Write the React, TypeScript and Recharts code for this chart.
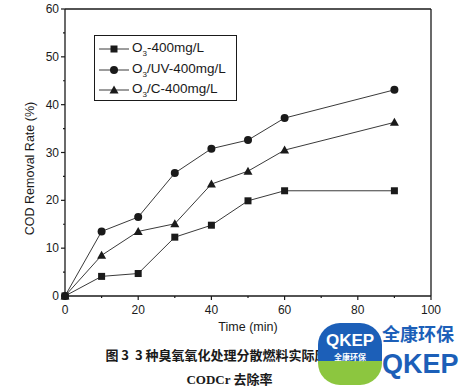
import React from "react";
import {
  LineChart,
  Line,
  XAxis,
  YAxis,
  ReferenceLine,
  Label,
} from "recharts";

// time (min)
const times = [0, 10, 20, 30, 40, 50, 60, 90];
// COD removal rate (%)
const o3 = [0, 4.1, 4.7, 12.3, 14.8, 19.9, 22.0, 22.0];
const o3uv = [0, 13.5, 16.5, 25.7, 30.8, 32.6, 37.2, 43.1];
const o3c = [0, 8.5, 13.5, 15.1, 23.4, 26.1, 30.5, 36.3];

const xTicks = [0, 10, 20, 30, 40, 50, 60, 70, 80, 90, 100];
const yTicks = [0, 5, 10, 15, 20, 25, 30, 35, 40, 45, 50, 55, 60];

const data = times.map((t, i) => ({ t, o3: o3[i], o3uv: o3uv[i], o3c: o3c[i] }));

const INK = "#1a1a1a";
const LINE = "#3a3a3a";
const FONT = "'Liberation Sans', Arial, sans-serif";

const Square = (p: any) =>
  p.cx == null ? null : (
    <rect key={p.key ?? p.index} x={p.cx - 3.5} y={p.cy - 3.5} width={7} height={7} fill={INK} />
  );
const Circle = (p: any) =>
  p.cx == null ? null : <circle key={p.key ?? p.index} cx={p.cx} cy={p.cy} r={4} fill={INK} />;
const Tri = (p: any) =>
  p.cx == null ? null : (
    <path
      key={p.key ?? p.index}
      d={`M${p.cx},${p.cy - 4.5} L${p.cx + 4.5},${p.cy + 3.5} L${p.cx - 4.5},${p.cy + 3.5} Z`}
      fill={INK}
    />
  );

const XTick = (p: any) => {
  const v = p.payload.value;
  const major = v % 20 === 0;
  const axisY = p.y - 10;
  return (
    <g>
      <line x1={p.x} x2={p.x} y1={axisY} y2={axisY + (major ? 4 : 2)} stroke={INK} strokeWidth={1.2} />
      {major && (
        <text x={p.x} y={axisY + 18} textAnchor="middle" fontSize={12} fill={INK} fontFamily={FONT}>
          {v}
        </text>
      )}
    </g>
  );
};

const YTick = (p: any) => {
  const v = p.payload.value;
  const major = v % 10 === 0;
  const axisX = p.x + 10;
  return (
    <g>
      <line x1={axisX} x2={axisX - (major ? 4 : 2)} y1={p.y} y2={p.y} stroke={INK} strokeWidth={1.2} />
      {major && (
        <text x={axisX - 6} y={p.y + 4} textAnchor="end" fontSize={12} fill={INK} fontFamily={FONT}>
          {v}
        </text>
      )}
    </g>
  );
};

const YTitle = (p: any) => {
  const vb = p.viewBox;
  const cx = vb.x + 5;
  const cy = vb.y + vb.height / 2 + 16;
  return (
    <text
      x={cx}
      y={cy}
      transform={`rotate(-90, ${cx}, ${cy})`}
      textAnchor="middle"
      dominantBaseline="central"
      fontFamily={FONT}
      fontSize={12.5}
      fill={INK}
    >
      COD Removal Rate (%)
    </text>
  );
};

const legendItems = [
  { shape: "sq", pre: "O", post: "-400mg/L" },
  { shape: "ci", pre: "O", post: "/UV-400mg/L" },
  { shape: "tr", pre: "O", post: "/C-400mg/L" },
];

const LegendBox = () => (
  <div
    style={{
      position: "absolute",
      left: 94,
      top: 35,
      border: `1px solid ${INK}`,
      width: 143,
      height: 66,
      background: "#fff",
      boxSizing: "border-box",
      padding: "3px 0 0 4px",
      fontFamily: FONT,
      fontSize: 13.5,
      color: INK,
    }}
  >
    {legendItems.map((it) => (
      <div key={it.post} style={{ display: "flex", alignItems: "center", height: 20.5 }}>
        <svg width={30} height={12} style={{ marginRight: 3 }}>
          <line x1={0} x2={30} y1={6} y2={6} stroke={LINE} strokeWidth={1} />
          {it.shape === "sq" && <rect x={11.5} y={2.5} width={7} height={7} fill={INK} />}
          {it.shape === "ci" && <circle cx={15} cy={6} r={4} fill={INK} />}
          {it.shape === "tr" && <path d="M15,1.5 L19.5,9.5 L10.5,9.5 Z" fill={INK} />}
        </svg>
        <span>
          {it.pre}
          <sub style={{ fontSize: 8 }}>3</sub>
          {it.post}
        </span>
      </div>
    ))}
  </div>
);

export default function App() {
  return (
    <div
      style={{
        position: "absolute",
        left: 0,
        top: 0,
        width: 459,
        height: 391,
        background: "#fff",
        overflow: "hidden",
      }}
    >
      <LineChart
        width={459}
        height={340}
        data={data}
        margin={{ top: 9, right: 28, bottom: 10, left: 25 }}
      >
        <XAxis
          dataKey="t"
          type="number"
          domain={[0, 100]}
          ticks={xTicks}
          interval={0}
          tickSize={0}
          tickMargin={10}
          tick={<XTick />}
          stroke={INK}
          strokeWidth={1.3}
          height={34}
        >
          <Label
            value="Time (min)"
            position="insideBottom"
            offset={-1}
            style={{ fontFamily: FONT, fontSize: 12.5, fill: INK }}
          />
        </XAxis>
        <YAxis
          type="number"
          domain={[0, 60]}
          ticks={yTicks}
          interval={0}
          tickSize={0}
          tickMargin={10}
          tick={<YTick />}
          stroke={INK}
          strokeWidth={1.3}
          width={40}
        >
          <Label content={<YTitle />} />
        </YAxis>
        <ReferenceLine y={60} stroke={INK} strokeWidth={1.3} />
        <ReferenceLine x={100} stroke={INK} strokeWidth={1.3} />
        <Line dataKey="o3" stroke={LINE} strokeWidth={1} dot={Square} isAnimationActive={false} />
        <Line dataKey="o3uv" stroke={LINE} strokeWidth={1} dot={Circle} isAnimationActive={false} />
        <Line dataKey="o3c" stroke={LINE} strokeWidth={1} dot={Tri} isAnimationActive={false} />
      </LineChart>
      <LegendBox />
      <div
        style={{
          position: "absolute",
          left: 0,
          width: 459,
          top: 343,
          textAlign: "center",
          fontFamily: "'Noto Sans CJK SC', sans-serif",
          fontWeight: 700,
          fontSize: 13,
          lineHeight: "24px",
          color: INK,
        }}
      >
        <div>图 3&nbsp;&nbsp;3 种臭氧氧化处理分散燃料实际废水的</div>
        <div style={{ fontFamily: "'Liberation Serif', serif" }}>
          CODCr <span style={{ fontFamily: "'Noto Sans CJK SC', sans-serif" }}>去除率</span>
        </div>
      </div>
      <div
        style={{
          position: "absolute",
          left: 318,
          top: 323,
          width: 64,
          height: 62,
          borderRadius: 22,
          background: "linear-gradient(#1c5fb8 0 62%, #8cc63f 62% 100%)",
          color: "#fff",
          textAlign: "center",
          fontFamily: FONT,
          fontWeight: 700,
        }}
      >
        <div style={{ fontSize: 17, marginTop: 8 }}>QKEP</div>
        <div style={{ fontSize: 8, fontFamily: "'Noto Sans CJK SC', sans-serif" }}>全康环保</div>
      </div>
      <div
        style={{
          position: "absolute",
          left: 382,
          top: 322,
          color: "#1c5fb8",
          fontWeight: 700,
          fontFamily: "'Noto Sans CJK SC', sans-serif",
          fontSize: 18,
          lineHeight: "22px",
        }}
      >
        全康环保
      </div>
      <div
        style={{
          position: "absolute",
          left: 382,
          top: 347,
          color: "#1c5fb8",
          fontWeight: 900,
          fontFamily: FONT,
          fontSize: 27,
          lineHeight: "34px",
        }}
      >
        QKEP
      </div>
    </div>
  );
}
